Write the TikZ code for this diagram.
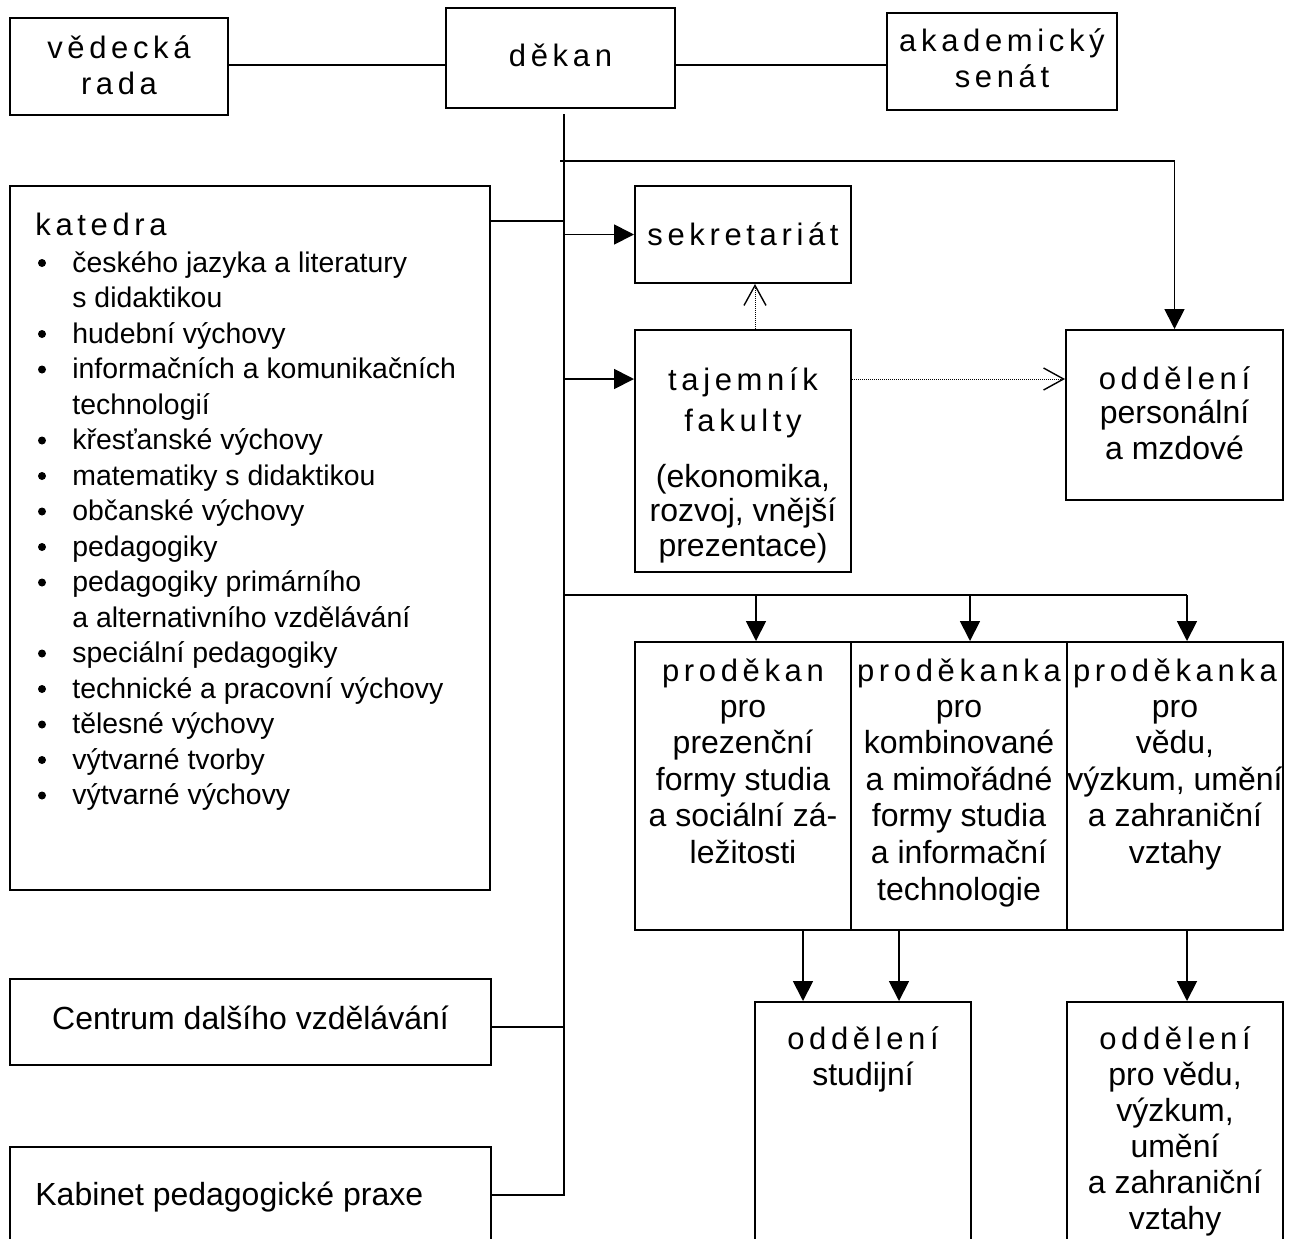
\documentclass[tikz,border=0pt]{standalone}
\usepackage{fontspec}
\setmainfont{Liberation Sans}
\newfontfamily\spfont[LetterSpace=15]{Liberation Sans}
\usetikzlibrary{arrows.meta}
\tikzset{
 box/.style={draw, line width=1pt, inner sep=0pt, rectangle},
 conn/.style={line width=0.9pt},
 arr/.style={line width=0.9pt, -{Triangle[length=10pt,width=10pt]}},
 dotarr/.style={line width=0.5pt, dash pattern=on 0.5pt off 0.5pt, -{Straight Barb[length=10pt,width=11pt,line width=0.7pt]}},
 ttl/.style={font=\fontsize{15.5pt}{18pt}\spfont, inner sep=0pt, anchor=base},
 txt/.style={font=\fontsize{16pt}{18.3pt}\selectfont, inner sep=0pt, anchor=base},
 lst/.style={font=\fontsize{14.2pt}{17.75pt}\selectfont, inner sep=0pt, anchor=base west},
 bul/.style={circle, fill, inner sep=0pt, minimum size=4pt},
}
\begin{document}
\begin{tikzpicture}[x=0.5pt,y=-0.5pt]
\clip (0,0) rectangle (1301,1238);
% boxes
\node[box, minimum width=109pt, minimum height=48.5pt] (vr) at (119,66.5) {};
\node[box, minimum width=114.5pt, minimum height=50pt] (dekan) at (560.5,58) {};
\node[box, minimum width=115pt, minimum height=48.5pt] (senat) at (1002,61.5) {};
\node[box, minimum width=240pt, minimum height=352pt] (katedra) at (250,538) {};
\node[box, minimum width=108pt, minimum height=48.5pt] (sekr) at (743,234.5) {};
\node[box, minimum width=108pt, minimum height=121pt] (taj) at (743,451) {};
\node[box, minimum width=108.5pt, minimum height=85pt] (pers) at (1174.5,415) {};
\node[box, minimum width=108pt, minimum height=144pt] (p1) at (743,786) {};
\node[box, minimum width=108pt, minimum height=144pt] (p2) at (959,786) {};
\node[box, minimum width=108pt, minimum height=144pt] (p3) at (1175,786) {};
\node[box, minimum width=108pt, minimum height=129pt] (stud) at (863,1131) {};
\node[box, minimum width=108pt, minimum height=129pt] (vedu) at (1175,1131) {};
\node[box, minimum width=240.5pt, minimum height=43pt] (centrum) at (250.5,1022) {};
\node[box, minimum width=240.5pt, minimum height=56.5pt] (kabinet) at (250.5,1203.5) {};

% texts
\node[ttl] (vr1) at (119,58) {vědecká};
\node[ttl] (vr2) at (119,94) {rada};
\node[ttl] (de1) at (560.5,66) {děkan};
\node[ttl] (se1) at (1002,51) {akademický};
\node[ttl] (se2) at (1002,87) {senát};
\node[ttl] (sk1) at (743,245) {sekretariát};
\node[ttl] (tj1) at (743,390) {tajemník};
\node[ttl] (tj2) at (743,431) {fakulty};
\node[txt] (tj3) at (743,487) {(ekonomika,};
\node[txt] (tj4) at (743,521) {rozvoj, vnější};
\node[txt] (tj5) at (743,556) {prezentace)};
\node[ttl] (pe1) at (1174.5,389) {oddělení};
\node[txt] (pe2) at (1174.5,423) {personální};
\node[txt] (pe3) at (1174.5,459) {a mzdové};
\node[ttl] (p1t) at (743,681) {proděkan};
\node[ttl] (p2t) at (959,681) {proděkanka};
\node[ttl] (p3t) at (1175,681) {proděkanka};
\foreach \s [count=\i] in {pro,prezenční,formy studia,a sociální zá-,ležitosti}
  \node[txt] (p1l\i) at (743,{717+36.6*(\i-1)}) {\s};
\foreach \s [count=\i] in {pro,kombinované,a mimořádné,formy studia,a informační,technologie}
  \node[txt] (p2l\i) at (959,{717+36.6*(\i-1)}) {\s};
\foreach \s [count=\i] in {pro,{vědu,},{výzkum, umění},a zahraniční,vztahy}
  \node[txt] (p3l\i) at (1175,{717+36.6*(\i-1)}) {\s};
\node[ttl] (st1) at (863,1049) {oddělení};
\node[txt] (st2) at (863,1085) {studijní};
\node[ttl] (ve1) at (1175,1049) {oddělení};
\foreach \s [count=\i] in {{pro vědu,},{výzkum,},umění,a zahraniční,vztahy}
  \node[txt] (vel\i) at (1175,{1085+36*(\i-1)}) {\s};
\node[txt] (ce1) at (250.5,1029) {Centrum dalšího vzdělávání};
\node[txt, anchor=base west] (ka1) at (35,1205) {Kabinet pedagogické praxe};
\node[ttl, anchor=base west] (kt1) at (35,235) {katedra};
\foreach \b/\s [count=\i] in {1/českého jazyka a literatury, 0/s didaktikou, 1/hudební výchovy,
  1/informačních a komunikačních, 0/technologií, 1/křesťanské výchovy, 1/matematiky s didaktikou,
  1/občanské výchovy, 1/pedagogiky, 1/pedagogiky primárního, 0/a alternativního vzdělávání,
  1/speciální pedagogiky, 1/technické a pracovní výchovy, 1/tělesné výchovy, 1/výtvarné tvorby,
  1/výtvarné výchovy}{
  \node[lst] (kl\i) at (72,{272+35.5*(\i-1)}) {\s};
  \ifnum\b=1 \node[bul] (kb\i) at (42,{263+35.5*(\i-1)}) {};\fi
}

% connectors
\coordinate (ttop) at (564,114);
\coordinate (tbot) at (564,1195);
\coordinate (h1) at (564,65);
\draw[conn] (vr.east |- h1) -- (dekan.west |- h1);
\draw[conn] (dekan.east |- h1) -- (senat.west |- h1);
\draw[conn] (kabinet.east |- tbot) -- (tbot) -- (ttop);
\coordinate (t161) at (560,161);
\draw[arr] (t161) -| (pers.north);
\coordinate (t221) at (564,221);
\draw[conn] (katedra.east |- t221) -- (t221);
\coordinate (t234) at (564,234.5);
\draw[arr] (t234) -- (sekr.west);
\coordinate (t379) at (564,379);
\draw[arr] (t379) -- (taj.west |- t379);
\draw[dotarr] ([xshift=6pt]taj.north) -- ([xshift=6pt]sekr.south);
\draw[dotarr] (taj.east |- t379) -- (pers.west |- t379);
\coordinate (t595) at (564,595);
\coordinate (j1) at (756,595);
\coordinate (j2) at (970,595);
\coordinate (j3) at (1187,595);
\draw[conn] (t595) -- (j3);
\draw[arr] (j1) -- (p1.north -| j1);
\draw[arr] (j2) -- (p2.north -| j2);
\draw[arr] (j3) -- (p3.north -| j3);
\coordinate (b1) at (803,930);
\coordinate (b2) at (899,930);
\coordinate (b3) at (1187,930);
\draw[arr] (b1) -- (stud.north -| b1);
\draw[arr] (b2) -- (stud.north -| b2);
\draw[arr] (b3) -- (vedu.north -| b3);
\coordinate (t1027) at (564,1027);
\draw[conn] (centrum.east |- t1027) -- (t1027);
\end{tikzpicture}
\end{document}
